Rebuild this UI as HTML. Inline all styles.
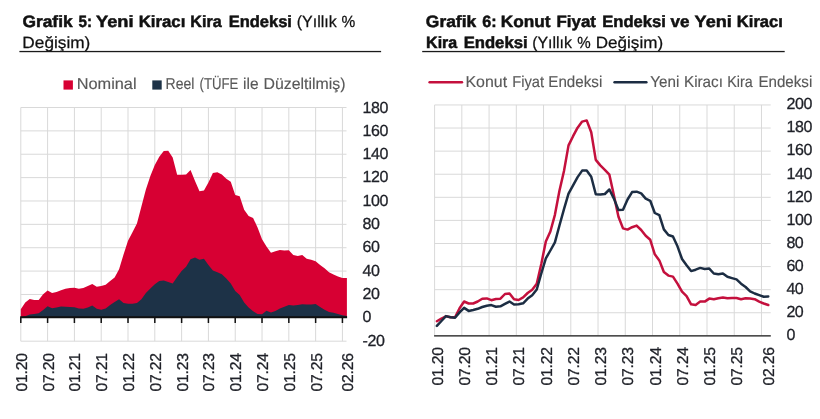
<!DOCTYPE html><html><head><meta charset="utf-8"><title>Grafik 5 - Grafik 6</title><style>html,body{margin:0;padding:0;background:#fff}svg{display:block}text{font-family:"Liberation Sans", Arial, sans-serif;white-space:pre;text-rendering:geometricPrecision}</style></head><body>
<svg width="820" height="419" viewBox="0 0 820 419">
<rect width="820" height="419" fill="#fff"/>
<text transform="translate(22.47 27.4) scale(1.058 1)" font-size="16.4" font-weight="bold" fill="#111" stroke="#111" stroke-width="0.5">Grafik</text>
<text transform="translate(78.57 27.4) scale(0.923 1)" font-size="16.4" font-weight="bold" fill="#111" stroke="#111" stroke-width="0.5">5:</text>
<text transform="translate(96.10 27.4) scale(1.111 1)" font-size="16.4" font-weight="bold" fill="#111" stroke="#111" stroke-width="0.5">Yeni</text>
<text transform="translate(138.73 27.4) scale(1.023 1)" font-size="16.4" font-weight="bold" fill="#111" stroke="#111" stroke-width="0.5">Kiracı</text>
<text transform="translate(190.36 27.4) scale(0.981 1)" font-size="16.4" font-weight="bold" fill="#111" stroke="#111" stroke-width="0.5">Kira</text>
<text transform="translate(228.65 27.4) scale(1.006 1)" font-size="16.4" font-weight="bold" fill="#111" stroke="#111" stroke-width="0.5">Endeksi</text>
<text transform="translate(296.71 27.4) scale(0.987 1)" font-size="16.2" fill="#111" stroke="#111" stroke-width="0.25">(Yıllık</text>
<text transform="translate(341.62 27.4) scale(0.956 1)" font-size="16.2" fill="#111" stroke="#111" stroke-width="0.25">%</text>
<text transform="translate(22.37 47.8) scale(1.064 1)" font-size="16.2" fill="#111" stroke="#111" stroke-width="0.25">Değişim)</text>
<text transform="translate(425.87 27.4) scale(1.062 1)" font-size="16.4" font-weight="bold" fill="#111" stroke="#111" stroke-width="0.5">Grafik</text>
<text transform="translate(482.15 27.4) scale(0.985 1)" font-size="16.4" font-weight="bold" fill="#111" stroke="#111" stroke-width="0.5">6:</text>
<text transform="translate(500.81 27.4) scale(1.050 1)" font-size="16.4" font-weight="bold" fill="#111" stroke="#111" stroke-width="0.5">Konut</text>
<text transform="translate(556.53 27.4) scale(1.029 1)" font-size="16.4" font-weight="bold" fill="#111" stroke="#111" stroke-width="0.5">Fiyat</text>
<text transform="translate(602.24 27.4) scale(1.012 1)" font-size="16.4" font-weight="bold" fill="#111" stroke="#111" stroke-width="0.5">Endeksi</text>
<text transform="translate(670.56 27.4) scale(1.041 1)" font-size="16.4" font-weight="bold" fill="#111" stroke="#111" stroke-width="0.5">ve</text>
<text transform="translate(694.60 27.4) scale(1.102 1)" font-size="16.4" font-weight="bold" fill="#111" stroke="#111" stroke-width="0.5">Yeni</text>
<text transform="translate(736.84 27.4) scale(1.009 1)" font-size="16.4" font-weight="bold" fill="#111" stroke="#111" stroke-width="0.5">Kiracı</text>
<text transform="translate(426.07 47.8) scale(0.978 1)" font-size="16.4" font-weight="bold" fill="#111" stroke="#111" stroke-width="0.5">Kira</text>
<text transform="translate(463.64 47.8) scale(1.017 1)" font-size="16.4" font-weight="bold" fill="#111" stroke="#111" stroke-width="0.5">Endeksi</text>
<text transform="translate(532.22 47.8) scale(0.982 1)" font-size="16.2" fill="#111" stroke="#111" stroke-width="0.25">(Yıllık</text>
<text transform="translate(577.13 47.8) scale(0.933 1)" font-size="16.2" fill="#111" stroke="#111" stroke-width="0.25">%</text>
<text transform="translate(595.78 47.8) scale(1.054 1)" font-size="16.2" fill="#111" stroke="#111" stroke-width="0.25">Değişim)</text>
<text transform="translate(76.71 89.0) scale(1.033 1)" font-size="15.8" fill="#595959" stroke="#595959" stroke-width="0.15">Nominal</text>
<text transform="translate(165.59 89.0) scale(0.886 1)" font-size="15.8" fill="#595959" stroke="#595959" stroke-width="0.15">Reel</text>
<text transform="translate(199.57 89.0) scale(0.835 1)" font-size="15.8" fill="#595959" stroke="#595959" stroke-width="0.15">(TÜFE</text>
<text transform="translate(243.12 89.0) scale(0.982 1)" font-size="15.8" fill="#595959" stroke="#595959" stroke-width="0.15">ile</text>
<text transform="translate(263.55 89.0) scale(1.004 1)" font-size="15.8" fill="#595959" stroke="#595959" stroke-width="0.15">Düzeltilmiş)</text>
<text transform="translate(465.44 87.1) scale(1.008 1)" font-size="15.8" fill="#595959" stroke="#595959" stroke-width="0.15">Konut</text>
<text transform="translate(512.24 87.1) scale(0.930 1)" font-size="15.8" fill="#595959" stroke="#595959" stroke-width="0.15">Fiyat</text>
<text transform="translate(548.30 87.1) scale(0.961 1)" font-size="15.8" fill="#595959" stroke="#595959" stroke-width="0.15">Endeksi</text>
<text transform="translate(650.36 87.1) scale(0.962 1)" font-size="15.8" fill="#595959" stroke="#595959" stroke-width="0.15">Yeni</text>
<text transform="translate(683.99 87.1) scale(0.964 1)" font-size="15.8" fill="#595959" stroke="#595959" stroke-width="0.15">Kiracı</text>
<text transform="translate(727.27 87.1) scale(0.907 1)" font-size="15.8" fill="#595959" stroke="#595959" stroke-width="0.15">Kira</text>
<text transform="translate(758.40 87.1) scale(0.959 1)" font-size="15.8" fill="#595959" stroke="#595959" stroke-width="0.15">Endeksi</text>
<rect x="19.4" y="50.9" width="361.7" height="1.3" fill="#1a1a1a"/>
<rect x="422.2" y="50.9" width="362.5" height="1.3" fill="#1a1a1a"/>
<rect x="63.5" y="80.4" width="9.4" height="9.2" fill="#d70033"/>
<rect x="152.3" y="80.4" width="9.4" height="9.2" fill="#1d3247"/>
<line x1="429.6" y1="82.2" x2="462" y2="82.2" stroke="#c4103d" stroke-width="2.4" stroke-linecap="round"/>
<line x1="614.5" y1="82.2" x2="646.4" y2="82.2" stroke="#1c2d43" stroke-width="2.4" stroke-linecap="round"/>
<path d="M20.80 107.50V341.20M47.60 107.50V341.20M74.41 107.50V341.20M101.21 107.50V341.20M128.01 107.50V341.20M154.81 107.50V341.20M181.62 107.50V341.20M208.42 107.50V341.20M235.22 107.50V341.20M262.02 107.50V341.20M288.83 107.50V341.20M315.63 107.50V341.20M342.43 107.50V341.20M20.80 107.50H346.50M20.80 130.87H346.50M20.80 154.24H346.50M20.80 177.61H346.50M20.80 200.98H346.50M20.80 224.35H346.50M20.80 247.72H346.50M20.80 271.09H346.50M20.80 294.46H346.50M20.80 317.83H346.50M20.80 341.20H346.50" stroke="#d9d9d9" stroke-width="1" fill="none"/>
<polygon points="20.80,317.30 20.80,309.20 25.27,302.50 29.73,299.00 34.20,299.90 38.67,299.90 43.14,294.20 47.60,290.50 52.07,292.90 56.54,291.90 61.00,290.30 65.47,288.70 69.94,287.90 74.41,287.70 78.87,288.70 83.34,288.10 87.81,285.90 92.27,284.00 96.74,286.70 101.21,285.90 105.68,284.70 110.14,280.90 114.61,277.50 119.08,269.20 123.54,254.50 128.01,240.80 132.48,232.20 136.95,223.60 141.41,206.50 145.88,189.50 150.35,176.00 154.81,165.00 159.28,156.80 163.75,151.00 168.22,150.70 172.68,157.60 177.15,174.80 181.62,174.80 186.08,174.50 190.55,170.00 195.02,181.00 199.48,191.20 203.95,190.50 208.42,182.40 212.89,172.90 217.35,172.20 221.82,174.40 226.29,178.80 230.75,181.70 235.22,194.90 239.69,196.30 244.16,209.80 248.62,216.00 253.09,217.90 257.56,227.60 262.02,239.20 266.49,246.50 270.96,252.70 275.43,251.20 279.89,249.90 284.36,250.60 288.83,250.20 293.29,255.10 297.76,256.00 302.23,255.10 306.70,258.80 311.16,259.80 315.63,261.20 320.10,264.90 324.56,268.20 329.03,272.20 333.50,274.60 337.97,276.50 342.43,278.00 346.90,278.00 346.90,317.30" fill="#d70033"/>
<polygon points="20.80,317.30 20.80,317.40 25.27,316.30 29.73,314.40 34.20,313.90 38.67,313.20 43.14,310.00 47.60,306.20 52.07,308.20 56.54,307.40 61.00,306.40 65.47,306.80 69.94,307.00 74.41,307.30 78.87,308.40 83.34,308.80 87.81,307.60 92.27,305.60 96.74,308.80 101.21,309.80 105.68,308.40 110.14,305.10 114.61,302.10 119.08,299.20 123.54,303.10 128.01,303.80 132.48,303.80 136.95,303.00 141.41,299.20 145.88,293.10 150.35,288.40 154.81,284.20 159.28,280.90 163.75,280.60 168.22,282.00 172.68,283.40 177.15,277.10 181.62,270.90 186.08,266.70 190.55,259.20 195.02,257.50 199.48,259.70 203.95,258.70 208.42,265.00 212.89,270.40 217.35,272.20 221.82,274.20 226.29,278.40 230.75,283.40 235.22,290.90 239.69,295.10 244.16,302.60 248.62,307.60 253.09,311.20 257.56,314.10 262.02,314.30 266.49,310.70 270.96,312.40 275.43,310.90 279.89,308.40 284.36,306.70 288.83,304.90 293.29,305.50 297.76,304.90 302.23,304.30 306.70,304.50 311.16,304.50 315.63,304.10 320.10,307.00 324.56,309.80 329.03,312.10 333.50,312.80 337.97,314.00 342.43,315.20 346.90,316.10 346.90,317.30" fill="#1d3247"/>
<rect x="20.20" y="316.20" width="326.90" height="2" fill="#111"/>
<path d="M20.80 317.30V322.90M47.60 317.30V322.90M74.41 317.30V322.90M101.21 317.30V322.90M128.01 317.30V322.90M154.81 317.30V322.90M181.62 317.30V322.90M208.42 317.30V322.90M235.22 317.30V322.90M262.02 317.30V322.90M288.83 317.30V322.90M315.63 317.30V322.90M342.43 317.30V322.90" stroke="#111" stroke-width="1.5" fill="none"/>
<text x="362.6" y="112.5" font-size="16" fill="#1f2128" textLength="25.9" lengthAdjust="spacing" stroke="#1f2128" stroke-width="0.3">180</text>
<text x="362.6" y="135.8" font-size="16" fill="#1f2128" textLength="25.9" lengthAdjust="spacing" stroke="#1f2128" stroke-width="0.3">160</text>
<text x="362.6" y="159.1" font-size="16" fill="#1f2128" textLength="25.9" lengthAdjust="spacing" stroke="#1f2128" stroke-width="0.3">140</text>
<text x="362.6" y="182.4" font-size="16" fill="#1f2128" textLength="25.9" lengthAdjust="spacing" stroke="#1f2128" stroke-width="0.3">120</text>
<text x="362.6" y="205.7" font-size="16" fill="#1f2128" textLength="25.9" lengthAdjust="spacing" stroke="#1f2128" stroke-width="0.3">100</text>
<text x="362.6" y="229.0" font-size="16" fill="#1f2128" textLength="17.3" lengthAdjust="spacing" stroke="#1f2128" stroke-width="0.3">80</text>
<text x="362.6" y="252.3" font-size="16" fill="#1f2128" textLength="17.3" lengthAdjust="spacing" stroke="#1f2128" stroke-width="0.3">60</text>
<text x="362.6" y="275.6" font-size="16" fill="#1f2128" textLength="17.3" lengthAdjust="spacing" stroke="#1f2128" stroke-width="0.3">40</text>
<text x="362.6" y="298.9" font-size="16" fill="#1f2128" textLength="17.3" lengthAdjust="spacing" stroke="#1f2128" stroke-width="0.3">20</text>
<text x="362.6" y="322.2" font-size="16" fill="#1f2128" stroke="#1f2128" stroke-width="0.3">0</text>
<text x="362.6" y="345.5" font-size="16" fill="#1f2128" textLength="22.2" lengthAdjust="spacing" stroke="#1f2128" stroke-width="0.3">-20</text>
<text transform="translate(26.80,353.0) rotate(-90)" text-anchor="end" font-size="15.7" fill="#1f2128" stroke="#1f2128" stroke-width="0.3" textLength="38.4" lengthAdjust="spacing">01.20</text>
<text transform="translate(53.60,353.0) rotate(-90)" text-anchor="end" font-size="15.7" fill="#1f2128" stroke="#1f2128" stroke-width="0.3" textLength="38.4" lengthAdjust="spacing">07.20</text>
<text transform="translate(80.41,353.0) rotate(-90)" text-anchor="end" font-size="15.7" fill="#1f2128" stroke="#1f2128" stroke-width="0.3" textLength="38.4" lengthAdjust="spacing">01.21</text>
<text transform="translate(107.21,353.0) rotate(-90)" text-anchor="end" font-size="15.7" fill="#1f2128" stroke="#1f2128" stroke-width="0.3" textLength="38.4" lengthAdjust="spacing">07.21</text>
<text transform="translate(134.01,353.0) rotate(-90)" text-anchor="end" font-size="15.7" fill="#1f2128" stroke="#1f2128" stroke-width="0.3" textLength="38.4" lengthAdjust="spacing">01.22</text>
<text transform="translate(160.81,353.0) rotate(-90)" text-anchor="end" font-size="15.7" fill="#1f2128" stroke="#1f2128" stroke-width="0.3" textLength="38.4" lengthAdjust="spacing">07.22</text>
<text transform="translate(187.62,353.0) rotate(-90)" text-anchor="end" font-size="15.7" fill="#1f2128" stroke="#1f2128" stroke-width="0.3" textLength="38.4" lengthAdjust="spacing">01.23</text>
<text transform="translate(214.42,353.0) rotate(-90)" text-anchor="end" font-size="15.7" fill="#1f2128" stroke="#1f2128" stroke-width="0.3" textLength="38.4" lengthAdjust="spacing">07.23</text>
<text transform="translate(241.22,353.0) rotate(-90)" text-anchor="end" font-size="15.7" fill="#1f2128" stroke="#1f2128" stroke-width="0.3" textLength="38.4" lengthAdjust="spacing">01.24</text>
<text transform="translate(268.02,353.0) rotate(-90)" text-anchor="end" font-size="15.7" fill="#1f2128" stroke="#1f2128" stroke-width="0.3" textLength="38.4" lengthAdjust="spacing">07.24</text>
<text transform="translate(294.83,353.0) rotate(-90)" text-anchor="end" font-size="15.7" fill="#1f2128" stroke="#1f2128" stroke-width="0.3" textLength="38.4" lengthAdjust="spacing">01.25</text>
<text transform="translate(321.63,353.0) rotate(-90)" text-anchor="end" font-size="15.7" fill="#1f2128" stroke="#1f2128" stroke-width="0.3" textLength="38.4" lengthAdjust="spacing">07.25</text>
<text transform="translate(352.90,353.0) rotate(-90)" text-anchor="end" font-size="15.7" fill="#1f2128" stroke="#1f2128" stroke-width="0.3" textLength="38.4" lengthAdjust="spacing">02.26</text>
<path d="M434.60 104.95V335.85M461.84 104.95V335.85M489.08 104.95V335.85M516.32 104.95V335.85M543.56 104.95V335.85M570.80 104.95V335.85M598.04 104.95V335.85M625.28 104.95V335.85M652.52 104.95V335.85M679.76 104.95V335.85M707.00 104.95V335.85M734.24 104.95V335.85M761.48 104.95V335.85M434.60 104.95H770.70M434.60 128.04H770.70M434.60 151.13H770.70M434.60 174.22H770.70M434.60 197.31H770.70M434.60 220.40H770.70M434.60 243.49H770.70M434.60 266.58H770.70M434.60 289.67H770.70M434.60 312.76H770.70" stroke="#d9d9d9" stroke-width="1" fill="none"/>
<rect x="434.10" y="335.10" width="336.70" height="1.5" fill="#3a3a3a"/>
<polyline points="436.87,321.20 441.41,318.50 445.95,316.30 450.49,317.30 455.03,317.30 459.57,308.20 464.11,301.50 468.65,303.50 473.19,303.50 477.73,301.50 482.27,298.70 486.81,298.40 491.35,300.20 495.89,299.00 500.43,298.70 504.97,294.00 509.51,293.50 514.05,299.30 518.59,300.00 523.13,297.40 527.67,293.00 532.21,289.80 536.75,283.80 541.29,264.00 545.83,241.50 550.37,231.50 554.91,214.80 559.45,190.80 563.99,171.00 568.53,145.40 573.07,136.20 577.61,127.70 582.15,121.60 586.69,120.40 591.23,132.30 595.77,159.90 600.31,165.40 604.85,169.90 609.39,174.70 613.93,195.50 618.47,216.80 623.01,228.40 627.55,229.60 632.09,227.20 636.63,225.60 641.17,230.00 645.71,235.80 650.25,239.80 654.79,254.30 659.33,260.40 663.87,272.00 668.41,275.60 672.95,276.60 677.49,283.70 682.03,291.60 686.57,296.10 691.11,304.30 695.65,304.90 700.19,301.60 704.73,301.60 709.27,298.60 713.81,299.20 718.35,298.20 722.89,297.60 727.43,298.30 731.97,297.90 736.51,298.00 741.05,299.20 745.59,298.30 750.13,298.60 754.67,299.20 759.21,301.60 763.75,303.50 768.29,305.00" fill="none" stroke="#c4103d" stroke-width="2.5" stroke-linejoin="round" stroke-linecap="round"/>
<polyline points="436.87,325.90 441.41,321.00 445.95,316.10 450.49,317.30 455.03,317.70 459.57,312.40 464.11,307.90 468.65,310.90 473.19,310.00 477.73,308.80 482.27,307.00 486.81,305.70 491.35,305.10 495.89,306.70 500.43,306.30 504.97,303.90 509.51,301.50 514.05,304.50 518.59,304.30 523.13,303.30 527.67,298.60 532.21,295.20 536.75,289.50 541.29,273.50 545.83,258.40 550.37,250.50 554.91,242.30 559.45,225.50 563.99,209.10 568.53,193.60 573.07,185.30 577.61,177.10 582.15,170.60 586.69,170.60 591.23,176.80 595.77,194.20 600.31,194.40 604.85,194.00 609.39,189.50 613.93,198.60 618.47,210.00 623.01,209.80 627.55,199.50 632.09,192.10 636.63,191.70 641.17,193.40 645.71,198.60 650.25,200.80 654.79,213.00 659.33,215.20 663.87,229.40 668.41,235.00 672.95,236.50 677.49,246.30 682.03,259.00 686.57,265.30 691.11,271.10 695.65,269.70 700.19,267.90 704.73,269.00 709.27,268.60 713.81,273.50 718.35,274.20 722.89,273.40 727.43,276.80 731.97,278.10 736.51,279.40 741.05,283.70 745.59,287.00 750.13,291.30 754.67,293.50 759.21,295.20 763.75,296.80 768.29,296.50" fill="none" stroke="#1c2d43" stroke-width="2.5" stroke-linejoin="round" stroke-linecap="round"/>
<text x="786.4" y="109.25" font-size="16" fill="#1f2128" textLength="25.9" lengthAdjust="spacing" stroke="#1f2128" stroke-width="0.3">200</text>
<text x="786.4" y="132.34" font-size="16" fill="#1f2128" textLength="25.9" lengthAdjust="spacing" stroke="#1f2128" stroke-width="0.3">180</text>
<text x="786.4" y="155.43" font-size="16" fill="#1f2128" textLength="25.9" lengthAdjust="spacing" stroke="#1f2128" stroke-width="0.3">160</text>
<text x="786.4" y="178.52" font-size="16" fill="#1f2128" textLength="25.9" lengthAdjust="spacing" stroke="#1f2128" stroke-width="0.3">140</text>
<text x="786.4" y="201.61" font-size="16" fill="#1f2128" textLength="25.9" lengthAdjust="spacing" stroke="#1f2128" stroke-width="0.3">120</text>
<text x="786.4" y="224.7" font-size="16" fill="#1f2128" textLength="25.9" lengthAdjust="spacing" stroke="#1f2128" stroke-width="0.3">100</text>
<text x="786.4" y="247.79" font-size="16" fill="#1f2128" textLength="17.3" lengthAdjust="spacing" stroke="#1f2128" stroke-width="0.3">80</text>
<text x="786.4" y="270.88" font-size="16" fill="#1f2128" textLength="17.3" lengthAdjust="spacing" stroke="#1f2128" stroke-width="0.3">60</text>
<text x="786.4" y="293.97" font-size="16" fill="#1f2128" textLength="17.3" lengthAdjust="spacing" stroke="#1f2128" stroke-width="0.3">40</text>
<text x="786.4" y="317.06" font-size="16" fill="#1f2128" textLength="17.3" lengthAdjust="spacing" stroke="#1f2128" stroke-width="0.3">20</text>
<text x="786.4" y="340.15" font-size="16" fill="#1f2128" stroke="#1f2128" stroke-width="0.3">0</text>
<text transform="translate(442.67,347.0) rotate(-90)" text-anchor="end" font-size="15.7" fill="#1f2128" stroke="#1f2128" stroke-width="0.3" textLength="38.4" lengthAdjust="spacing">01.20</text>
<text transform="translate(469.91,347.0) rotate(-90)" text-anchor="end" font-size="15.7" fill="#1f2128" stroke="#1f2128" stroke-width="0.3" textLength="38.4" lengthAdjust="spacing">07.20</text>
<text transform="translate(497.15,347.0) rotate(-90)" text-anchor="end" font-size="15.7" fill="#1f2128" stroke="#1f2128" stroke-width="0.3" textLength="38.4" lengthAdjust="spacing">01.21</text>
<text transform="translate(524.39,347.0) rotate(-90)" text-anchor="end" font-size="15.7" fill="#1f2128" stroke="#1f2128" stroke-width="0.3" textLength="38.4" lengthAdjust="spacing">07.21</text>
<text transform="translate(551.63,347.0) rotate(-90)" text-anchor="end" font-size="15.7" fill="#1f2128" stroke="#1f2128" stroke-width="0.3" textLength="38.4" lengthAdjust="spacing">01.22</text>
<text transform="translate(578.87,347.0) rotate(-90)" text-anchor="end" font-size="15.7" fill="#1f2128" stroke="#1f2128" stroke-width="0.3" textLength="38.4" lengthAdjust="spacing">07.22</text>
<text transform="translate(606.11,347.0) rotate(-90)" text-anchor="end" font-size="15.7" fill="#1f2128" stroke="#1f2128" stroke-width="0.3" textLength="38.4" lengthAdjust="spacing">01.23</text>
<text transform="translate(633.35,347.0) rotate(-90)" text-anchor="end" font-size="15.7" fill="#1f2128" stroke="#1f2128" stroke-width="0.3" textLength="38.4" lengthAdjust="spacing">07.23</text>
<text transform="translate(660.59,347.0) rotate(-90)" text-anchor="end" font-size="15.7" fill="#1f2128" stroke="#1f2128" stroke-width="0.3" textLength="38.4" lengthAdjust="spacing">01.24</text>
<text transform="translate(687.83,347.0) rotate(-90)" text-anchor="end" font-size="15.7" fill="#1f2128" stroke="#1f2128" stroke-width="0.3" textLength="38.4" lengthAdjust="spacing">07.24</text>
<text transform="translate(715.07,347.0) rotate(-90)" text-anchor="end" font-size="15.7" fill="#1f2128" stroke="#1f2128" stroke-width="0.3" textLength="38.4" lengthAdjust="spacing">01.25</text>
<text transform="translate(742.31,347.0) rotate(-90)" text-anchor="end" font-size="15.7" fill="#1f2128" stroke="#1f2128" stroke-width="0.3" textLength="38.4" lengthAdjust="spacing">07.25</text>
<text transform="translate(774.09,347.0) rotate(-90)" text-anchor="end" font-size="15.7" fill="#1f2128" stroke="#1f2128" stroke-width="0.3" textLength="38.4" lengthAdjust="spacing">02.26</text>
</svg></body></html>
